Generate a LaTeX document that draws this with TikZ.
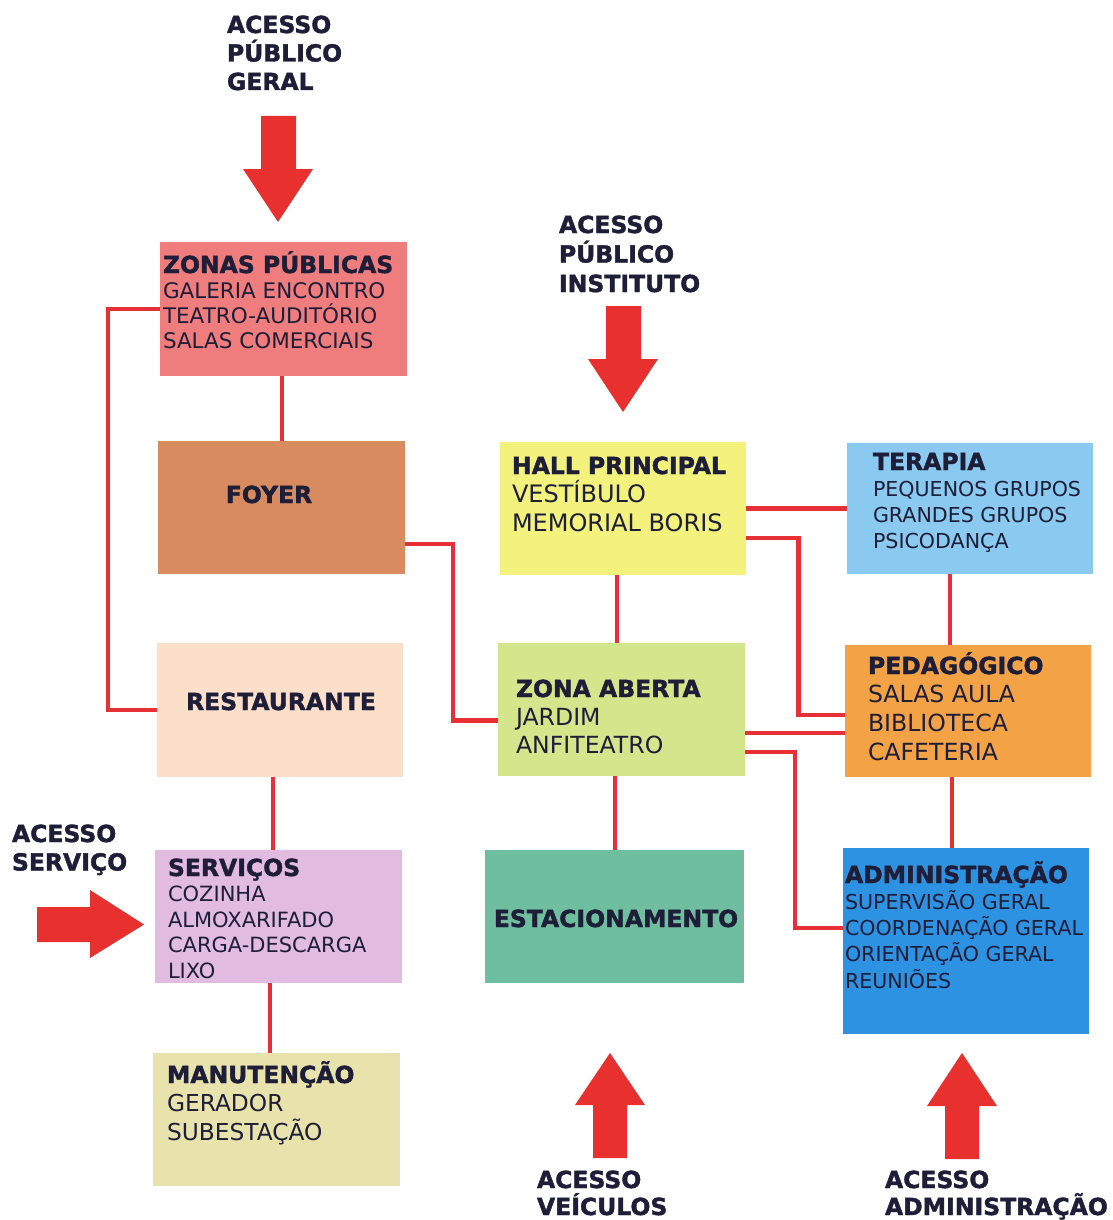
\documentclass[tikz,border=0pt]{standalone}
\usepackage{fontspec}
\setmainfont{DejaVu Sans}[BoldFeatures={FakeBold=1.6}]
\usetikzlibrary{calc}
\setlength{\lineskiplimit}{-100pt}
\definecolor{txtc}{HTML}{1E1E38}
\definecolor{linkred}{HTML}{E63035}
\definecolor{arrred}{HTML}{E8312F}
\definecolor{cZonas}{HTML}{EF7D7E}
\definecolor{cFoyer}{HTML}{D88B5F}
\definecolor{cRest}{HTML}{FBDFCB}
\definecolor{cServ}{HTML}{E2BBE1}
\definecolor{cManut}{HTML}{E8E2AC}
\definecolor{cHall}{HTML}{F3F27D}
\definecolor{cZona}{HTML}{D4E68C}
\definecolor{cEstac}{HTML}{6FBE9F}
\definecolor{cTer}{HTML}{8ACAF1}
\definecolor{cPed}{HTML}{F3A346}
\definecolor{cAdmin}{HTML}{2E92E2}
\newcommand\ttl[1]{\hbox{\fontsize{23.5}{23.5}\bfseries\selectfont #1}}
\newcommand\itm[1]{\hbox{#1}}
\begin{document}
\begin{tikzpicture}[x=1pt,y=-1pt,
  box/.style={rectangle, inner sep=0pt, outer sep=0pt, anchor=north west, draw=none},
  lbl/.style={inner sep=0pt, outer sep=0pt, text=txtc, font=\fontsize{23.5}{28.5}\selectfont\bfseries},
  link/.style={draw=linkred, line width=4.5pt},
  acc/.style={fill=arrred, draw=none}]
\useasboundingbox (0,0) rectangle (1112,1220);
\fill[white] (0,0) rectangle (1112,1220);

% boxes
\node[box, fill=cZonas, minimum width=247pt, minimum height=134pt] (zonas) at (160,242) {};
\node[box, fill=cFoyer, minimum width=247pt, minimum height=133pt] (foyer) at (158,441) {};
\node[box, fill=cRest,  minimum width=246pt, minimum height=134pt] (rest)  at (157,643) {};
\node[box, fill=cServ,  minimum width=247pt, minimum height=133pt] (serv)  at (155,850) {};
\node[box, fill=cManut, minimum width=247pt, minimum height=133pt] (manut) at (153,1053) {};
\node[box, fill=cHall,  minimum width=246pt, minimum height=133pt] (hall)  at (500,442) {};
\node[box, fill=cZona,  minimum width=247pt, minimum height=133pt] (zona)  at (498,643) {};
\node[box, fill=cEstac, minimum width=259pt, minimum height=133pt] (estac) at (485,850) {};
\node[box, fill=cTer,   minimum width=246pt, minimum height=131pt] (ter)   at (847,443) {};
\node[box, fill=cPed,   minimum width=246pt, minimum height=132pt] (ped)   at (845,645) {};
\node[box, fill=cAdmin, minimum width=246pt, minimum height=186pt] (admin) at (843,848) {};

% box texts
\node[lbl, anchor=base west] (zonasT) at (163,273) {\vtop{\fontsize{21.5}{25}\mdseries\selectfont
  \ttl{ZONAS PÚBLICAS}\itm{GALERIA ENCONTRO}\itm{TEATRO-AUDITÓRIO}\itm{SALAS COMERCIAIS}}};
\node[lbl, anchor=base] (foyerT) at (269,503) {FOYER};
\node[lbl, anchor=base] (restT) at (281,710) {RESTAURANTE};
\node[lbl, anchor=base west] (servT) at (168,876) {\vtop{\fontsize{21}{25.5}\mdseries\selectfont
  \ttl{SERVIÇOS}\itm{COZINHA}\itm{ALMOXARIFADO}\itm{CARGA-DESCARGA}\itm{LIXO}}};
\node[lbl, anchor=base west] (manutT) at (167,1083) {\vtop{\fontsize{23.3}{28.5}\mdseries\selectfont
  \ttl{MANUTENÇÃO}\itm{GERADOR}\itm{SUBESTAÇÃO}}};
\node[lbl, anchor=base west] (hallT) at (512,474) {\vtop{\fontsize{24}{28.5}\mdseries\selectfont
  \ttl{HALL PRINCIPAL}\itm{VESTÍBULO}\itm{MEMORIAL BORIS}}};
\node[lbl, anchor=base west] (zonaT) at (516,697) {\vtop{\fontsize{23.6}{28}\mdseries\selectfont
  \ttl{ZONA ABERTA}\itm{JARDIM}\itm{ANFITEATRO}}};
\node[lbl, anchor=base] (estacT) at (616,927) {ESTACIONAMENTO};
\node[lbl, anchor=base west] (terT) at (873,470) {\vtop{\fontsize{20.6}{26}\mdseries\selectfont
  \ttl{TERAPIA}\itm{PEQUENOS GRUPOS}\itm{GRANDES GRUPOS}\itm{PSICODANÇA}}};
\node[lbl, anchor=base west] (pedT) at (868,674) {\vtop{\fontsize{23.6}{28.7}\mdseries\selectfont
  \ttl{PEDAGÓGICO}\itm{SALAS AULA}\itm{BIBLIOTECA}\itm{CAFETERIA}}};
\node[lbl, anchor=base west] (adminT) at (845,883) {\vtop{\fontsize{20.6}{26.3}\mdseries\selectfont
  \ttl{ADMINISTRAÇÃO}\itm{SUPERVISÃO GERAL}\itm{COORDENAÇÃO GERAL}\itm{ORIENTAÇÃO GERAL}\itm{REUNIÕES}}};

% access labels
\node[lbl, anchor=base west] (accGeral) at (227,33) {\vtop{\ttl{ACESSO}\ttl{PÚBLICO}\ttl{GERAL}}};
\node[lbl, anchor=base west] (accInst) at (559,233) {\vtop{\baselineskip=29.5pt\ttl{ACESSO}\ttl{PÚBLICO}\ttl{INSTITUTO}}};
\node[lbl, anchor=base west] (accServ) at (12,842) {\vtop{\ttl{ACESSO}\ttl{SERVIÇO}}};
\node[lbl, anchor=base west] (accVeic) at (537,1188) {\vtop{\baselineskip=27pt\ttl{ACESSO}\ttl{VEÍCULOS}}};
\node[lbl, anchor=base west] (accAdm) at (885,1188) {\vtop{\baselineskip=27pt\ttl{ACESSO}\ttl{ADMINISTRAÇÃO}}};

% access arrows
\fill[acc] (261,116) -- (296,116) -- (296,169) -- (313,169) -- (278,222) -- (243,169) -- (261,169) -- cycle;
\fill[acc] (606,306) -- (641,306) -- (641,359) -- (658,359) -- (623,412) -- (588,359) -- (606,359) -- cycle;
\fill[acc] (593,1158) -- (627,1158) -- (627,1105) -- (645,1105) -- (610,1053) -- (575,1105) -- (593,1105) -- cycle;
\fill[acc] (945,1159) -- (979,1159) -- (979,1106) -- (997,1106) -- (962,1053) -- (927,1106) -- (945,1106) -- cycle;
\fill[acc] (37,907) -- (90,907) -- (90,890) -- (144,924.5) -- (90,958) -- (90,942) -- (37,942) -- cycle;

% connectors
\draw[link] ($(zonas.south)+(-1.5,0)$) coordinate (c1) -- (c1 |- foyer.north);
\draw[link] (zonas.west) -- ++(-52,0) |- (rest.west);
\draw[link] ($(foyer.east)+(0,36.5)$) -- ++(48,0) |- ($(zona.west)+(0,11)$);
\draw[link] ($(rest.south)+(-7,0)$) coordinate (c2) -- (c2 |- serv.north);
\draw[link] ($(serv.south)+(-8.5,0)$) coordinate (c3) -- (c3 |- manut.north);
\draw[link] ($(hall.south)+(-6,0)$) coordinate (c4) -- (c4 |- zona.north);
\draw[link] ($(zona.south)+(-6.5,0)$) coordinate (c5) -- (c5 |- estac.north);
\draw[link] (hall.east) -- (ter.west);
\draw[link] ($(hall.east)+(0,29.5)$) -- ++(52.5,0) |- ($(ped.west)+(0,4)$);
\draw[link] ($(zona.east)+(0,23.5)$) coordinate (c6) -- (c6 -| ped.west);
\draw[link] ($(zona.east)+(0,42.5)$) -- ++(50,0) |- ($(admin.west)+(0,-13)$);
\draw[link] ($(ter.south)+(-20,0)$) coordinate (c7) -- (c7 |- ped.north);
\draw[link] ($(ped.south)+(-16,0)$) coordinate (c8) -- (c8 |- admin.north);
\end{tikzpicture}
\end{document}
